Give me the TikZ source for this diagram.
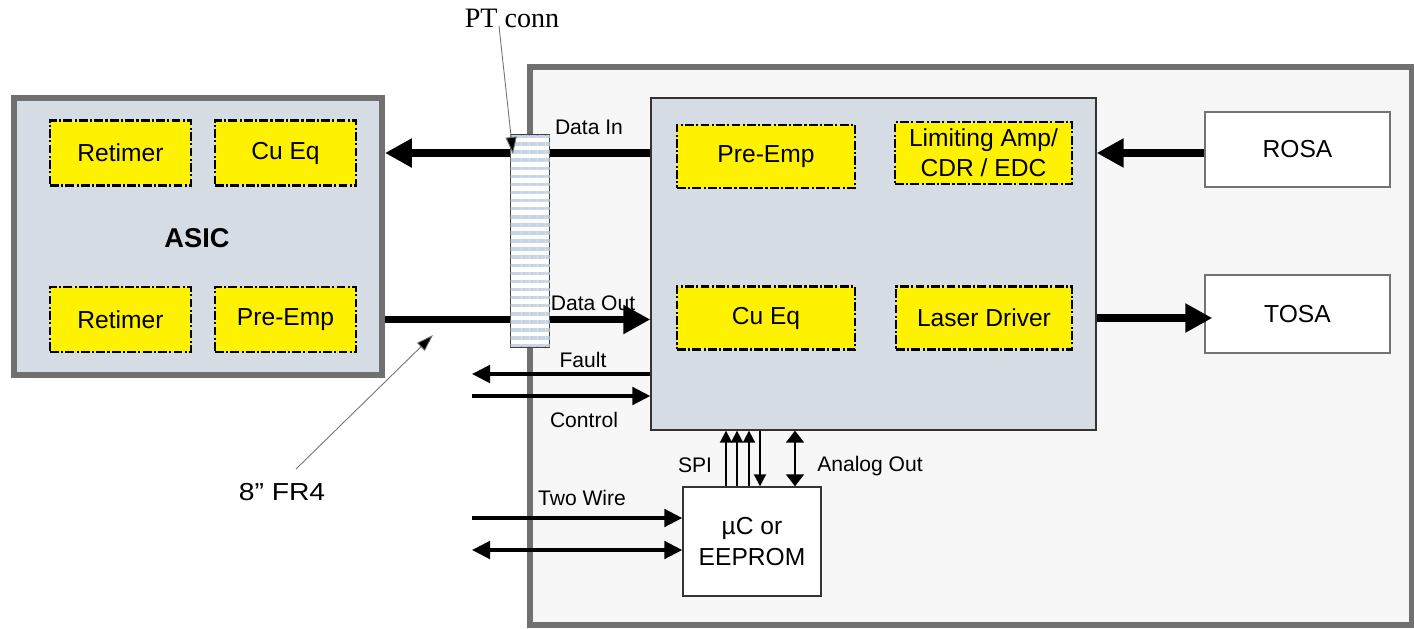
\documentclass[tikz,border=0pt]{standalone}
\usepackage{fontspec}
\setmainfont{Liberation Sans}
\newfontfamily\ptserif{Liberation Serif}
\newfontfamily\frwide{Liberation Sans}[FakeStretch=1.15]
\usepackage{tikz}
\usetikzlibrary{positioning,arrows.meta,patterns.meta}
\definecolor{chipgray}{RGB}{214,220,227}
\definecolor{modfill}{RGB}{247,247,247}
\definecolor{rimgray}{RGB}{112,112,112}
\definecolor{stripeblue}{RGB}{198,212,228}

\begin{document}
\begin{tikzpicture}[x=0.02cm, y=-0.02cm, every node/.style={font=\fontsize{14}{16}\selectfont}]
\tikzstyle{blk}=[draw=black, fill=yellow, line width=1.4pt, dash pattern=on 5pt off 1.3pt on 1.2pt off 1.3pt, minimum width=2.82cm, minimum height=1.3cm, align=center, inner sep=1pt]
\tikzstyle{mblk}=[blk, minimum width=3.56cm, minimum height=1.26cm]
\tikzstyle{optic}=[draw=black!55, line width=0.8pt, fill=white, minimum width=3.7cm, minimum height=1.5cm]
\tikzstyle{lbl}=[font=\fontsize{12}{14}\selectfont, inner sep=1pt]
\tikzstyle{bus}=[line width=4.5pt, -{Triangle[length=0.54cm, width=0.55cm]}]
\tikzstyle{sig}=[line width=2pt, -{Triangle[length=0.36cm, width=0.35cm]}]
\tikzstyle{spi}=[line width=1.1pt, -{Triangle[length=0.24cm, width=0.24cm]}]
\tikzstyle{lead}=[draw=black!55, line width=0.5pt, -{Triangle[length=0.34cm, width=0.22cm, fill=black]}]
\useasboundingbox (0,0) rectangle (1414,629);
\fill[white] (0,0) rectangle (1414,629);

% module outline
\node[draw=rimgray, line width=3pt, fill=modfill, minimum width=17.64cm, minimum height=11.16cm] (module) at (971,346) {};

% host side
\node[draw=rimgray, line width=3.4pt, fill=chipgray, minimum width=7.36cm, minimum height=5.54cm] (asic) at (198,236.5) {};
\node[font=\fontsize{15.5}{18}\selectfont\bfseries] (asiclbl) at (197,238) {ASIC};
\node[blk] (ret1) at (120.5,153) {Retimer};
\node[blk] (cueq1) at (285.5,153) {Cu Eq};
\node[blk] (ret2) at (120.5,319.5) {Retimer};
\node[blk] (pemp1) at (285.5,319.5) {Pre-Emp};

% module chip
\node[draw=black!80, line width=0.8pt, fill=chipgray, minimum width=8.9cm, minimum height=6.64cm] (main) at (873.5,264) {};
\node[mblk] (pemp2) at (766,156.5) {Pre-Emp};
\node[mblk, minimum width=3.54cm, minimum height=1.24cm, font=\fontsize{14}{17}\selectfont] (lim) at (983.5,153) {Limiting Amp/\\CDR / EDC};
\node[mblk] (cueq2) at (766,318) {Cu Eq};
\node[mblk, minimum width=3.52cm] (ldrv) at (984,318) {Laser Driver};

\node[optic] (rosa) at (1297.5,149.5) {ROSA};
\node[optic, minimum height=1.56cm] (tosa) at (1297.5,314) {TOSA};
\node[draw=black!80, line width=0.8pt, fill=white, minimum width=2.76cm, minimum height=2.18cm, align=center, font=\fontsize{14}{17.5}\selectfont] (uc) at (752,541.5) {µC or\\EEPROM};

% free ends
\coordinate (fault-end) at (472,374);
\coordinate (ctl-start) at (472,396);
\coordinate (tw-start) at (472,518);
\coordinate (tw2-start) at (472,550);

% data paths
\draw[bus] (main.west |- cueq1) -- (asic.east |- cueq1);
\draw[bus] (asic.east |- pemp1) -- (main.west |- pemp1);
\draw[bus] (rosa.west |- lim) -- (main.east |- lim);
\draw[bus, shorten >=-0.16cm] (main.east |- ldrv) -- (tosa.west |- ldrv);

% low speed
\draw[sig] (main.west |- fault-end) -- (fault-end);
\draw[sig] (ctl-start) -- (main.west |- ctl-start);
\draw[sig] (tw-start) -- (uc.west |- tw-start);
\draw[sig, {Triangle[length=0.36cm, width=0.35cm]}-{Triangle[length=0.36cm, width=0.35cm]}] (tw2-start) -- (uc.west |- tw2-start);
\foreach \xx in {726,737,749}
  \draw[spi] (uc.north -| \xx,0) -- (main.south -| \xx,0);
\draw[spi] (main.south -| 760,0) -- (uc.north -| 760,0);
\draw[spi, {Triangle[length=0.24cm, width=0.36cm]}-{Triangle[length=0.24cm, width=0.36cm]}] (main.south -| 795,0) -- (uc.north -| 795,0);

\node[lbl] (datain) at (589,127) {Data In};
\node[lbl] (dataout) at (593,303) {Data Out};
\node[lbl] (fault) at (583,360) {Fault};
\node[lbl] (control) at (584,420) {Control};
\node[lbl] (spilbl) at (695,465) {SPI};
\node[lbl] (analog) at (870,466) {Analog Out};
\node[lbl] (twowire) at (582,498) {Two Wire};

% PT connector
\node[draw=black!75, line width=0.8pt, fill=white, postaction={pattern={Lines[distance=4.6pt, line width=2pt]}, pattern color=stripeblue}, minimum width=0.78cm, minimum height=4.24cm] (conn) at (530,241) {};

% callouts
\node[font=\ptserif\fontsize{16}{18}\selectfont] (ptlbl) at (512,18) {PT conn};
\coordinate (pt-tail) at (499,26);
\coordinate (pt-tip) at (513,154);
\draw[lead] (pt-tail) -- (pt-tip);
\node[font=\frwide\fontsize{14}{16}\selectfont] (frlbl) at (282,492) {8” FR4};
\coordinate (fr-tail) at (296,469);
\coordinate (fr-tip) at (433,335);
\draw[lead] (fr-tail) -- (fr-tip);
\end{tikzpicture}
\end{document}
